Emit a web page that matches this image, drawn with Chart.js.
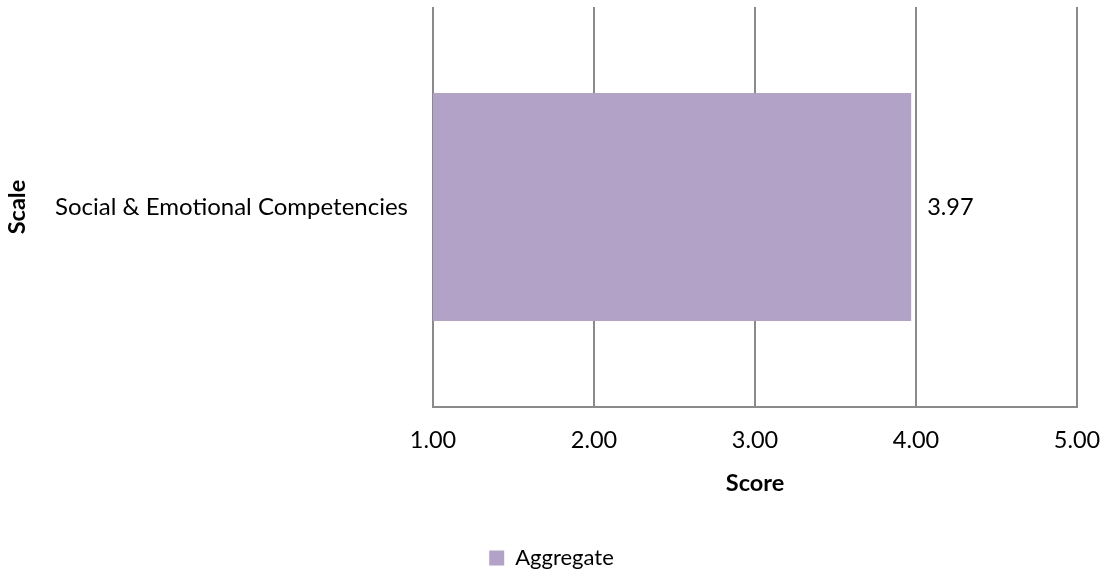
<!DOCTYPE html>
<html lang="en">
<head>
    <meta charset="UTF-8">
    <title>Score by Scale</title>
    <style>
        body {
            margin: 0;
            padding: 0;
            background-color: #ffffff;
        }

        .chart-container {
            width: 1103px;
            height: 571px;
        }
    </style>
</head>
<body>

<div class="chart-container">
    <canvas id="scoreChart"></canvas>
</div>

<script src="https://cdn.jsdelivr.net/npm/chart.js"></script>

<script>
    // Datos
    const categories = ['Social & Emotional Competencies'];
    const aggregate = [3.97];
    const seriesName = 'Aggregate';
    const tickValues = [1, 2, 3, 4, 5];

    const FONT = "'Lato', 'Noto Sans', sans-serif";
    const GRID = '#8a8a8a';

    // Etiqueta del valor al final de cada barra
    const valueLabels = {
        id: 'valueLabels',
        afterDatasetsDraw(chart) {
            const ctx = chart.ctx;
            const meta = chart.getDatasetMeta(0);
            ctx.save();
            ctx.font = '23.5px ' + FONT;
            ctx.fillStyle = '#000';
            ctx.textAlign = 'left';
            ctx.textBaseline = 'middle';
            meta.data.forEach((bar, i) => {
                ctx.fillText(aggregate[i].toFixed(2), bar.x + 16, bar.y);
            });
            ctx.restore();
        }
    };

    const ctx = document.getElementById('scoreChart').getContext('2d');
    const scoreChart = new Chart(ctx, {
        type: 'bar',
        data: {
            labels: categories,
            datasets: [{
                label: seriesName,
                data: aggregate,
                backgroundColor: '#b3a2c7',
                borderWidth: 0,
                categoryPercentage: 1,
                barPercentage: 0.57
            }]
        },
        options: {
            indexAxis: 'y',
            responsive: true,
            maintainAspectRatio: false,
            animation: false,
            layout: {
                padding: { top: 7, right: 0, bottom: -8, left: 0 }
            },
            scales: {
                x: {
                    min: 1,
                    max: 5,
                    afterBuildTicks(scale) {
                        scale.ticks = tickValues.map(v => ({ value: v }));
                    },
                    afterFit(scale) {
                        scale.height = 137;
                        scale.paddingLeft = 0;
                        scale.paddingRight = 26;
                    },
                    grid: {
                        color: GRID,
                        lineWidth: 2,
                        drawTicks: false
                    },
                    border: { color: GRID, width: 2 },
                    ticks: {
                        padding: 19,
                        color: '#000',
                        font: { family: FONT, size: 23.5 },
                        callback: v => Number(v).toFixed(2)
                    },
                    title: {
                        display: true,
                        text: 'Score',
                        color: '#000',
                        font: { family: FONT, size: 23.5, weight: 'bold' },
                        padding: { top: 10, bottom: 46 }
                    }
                },
                y: {
                    afterFit(scale) {
                        scale.width = 433;
                        scale.paddingTop = 0;
                        scale.paddingBottom = 0;
                    },
                    grid: { display: false },
                    border: { display: false },
                    ticks: {
                        padding: 17,
                        color: '#000',
                        font: { family: FONT, size: 24 }
                    },
                    title: {
                        display: true,
                        text: 'Scale',
                        color: '#000',
                        font: { family: FONT, size: 23.5, weight: 'bold' },
                        padding: { top: 3, bottom: 0 }
                    }
                }
            },
            plugins: {
                legend: {
                    position: 'bottom',
                    labels: {
                        color: '#000',
                        font: { family: FONT, size: 22 },
                        boxWidth: 15,
                        boxHeight: 15,
                        padding: 3
                    }
                },
                tooltip: { enabled: false }
            }
        },
        plugins: [valueLabels]
    });
</script>

</body>
</html>
